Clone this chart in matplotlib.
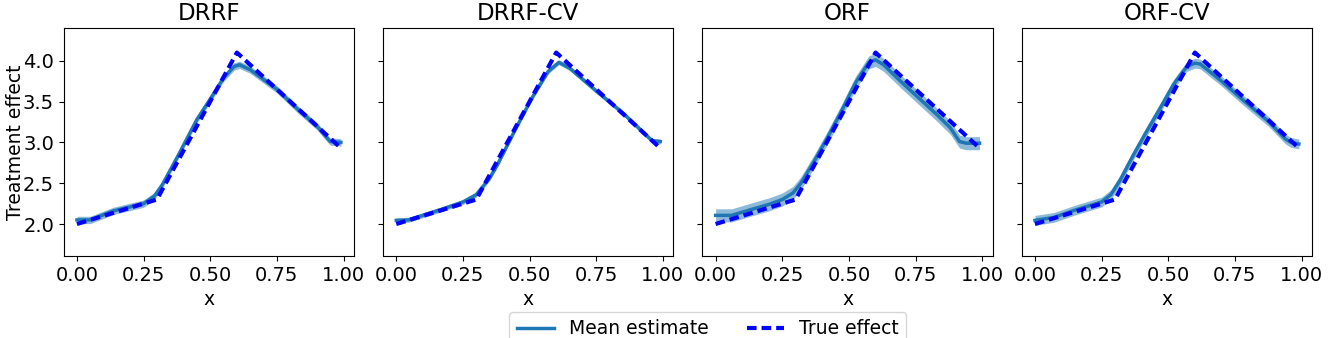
import matplotlib
matplotlib.use('Agg')
import matplotlib.pyplot as plt, numpy as np

titles = ['DRRF', 'DRRF-CV', 'ORF', 'ORF-CV']

x_drrf    = [0.0, 0.05, 0.136, 0.25, 0.29, 0.32, 0.375, 0.45, 0.5, 0.55, 0.59, 0.61, 0.65, 0.75, 0.83, 0.9, 0.95, 0.99]
y_drrf    = [2.05, 2.05, 2.16, 2.25, 2.34, 2.48, 2.81, 3.28, 3.53, 3.79, 3.93, 3.95, 3.89, 3.65, 3.40, 3.20, 3.01, 3.00]
x_drrf_cv = [0.0, 0.045, 0.17, 0.25, 0.3, 0.35, 0.38, 0.45, 0.51, 0.57, 0.61, 0.65, 0.75, 0.85, 0.94, 0.96, 0.99]
y_drrf_cv = [2.045, 2.05, 2.18, 2.27, 2.36, 2.56, 2.73, 3.18, 3.55, 3.87, 3.98, 3.91, 3.63, 3.36, 3.08, 3.02, 3.01]
x_orf     = [0.0, 0.06, 0.136, 0.2, 0.25, 0.29, 0.32, 0.37, 0.42, 0.475, 0.525, 0.575, 0.6, 0.63, 0.7, 0.76, 0.83, 0.88, 0.915, 0.94, 0.99]
y_orf     = [2.106, 2.106, 2.18, 2.24, 2.30, 2.38, 2.50, 2.77, 3.06, 3.40, 3.73, 3.98, 4.01, 3.95, 3.73, 3.55, 3.34, 3.18, 3.01, 2.99, 2.99]
x_orf_cv  = [0.0, 0.07, 0.15, 0.25, 0.285, 0.32, 0.37, 0.42, 0.47, 0.52, 0.57, 0.6, 0.62, 0.7, 0.78, 0.875, 0.94, 0.96, 0.99]
y_orf_cv  = [2.045, 2.08, 2.17, 2.27, 2.36, 2.54, 2.85, 3.14, 3.42, 3.71, 3.93, 3.97, 3.96, 3.75, 3.52, 3.26, 3.04, 3.00, 2.98]
band      = [0.045, 0.03, 0.08, 0.06]   # half width of the shaded band

x_true = [0.0, 0.3, 0.6, 0.99]
y_true = [2.0, 2.3, 4.1, 2.93]

xs = [x_drrf, x_drrf_cv, x_orf, x_orf_cv]
ys = [y_drrf, y_drrf_cv, y_orf, y_orf_cv]

plt.rcParams['font.size'] = 13.5
plt.rcParams['xtick.labelsize'] = 14
plt.rcParams['ytick.labelsize'] = 14
fig, axes = plt.subplots(1, 4, figsize=(13.28, 3.38), dpi=100, sharey=True)
fig.subplots_adjust(left=0.048, right=0.988, bottom=0.243, top=0.917, wspace=0.1)

for ax, t, x, y, b in zip(axes, titles, xs, ys, band):
    x = np.array(x); y = np.array(y)
    ax.fill_between(x, y - b, y + b, color='C0', alpha=0.5, lw=0)
    l1, = ax.plot(x, y, color='C0', lw=2.5, label='Mean estimate')
    l2, = ax.plot(x_true, y_true, 'b--', lw=3, dashes=(2.3, 1.2), label='True effect')
    ax.set_title(t, fontsize=16.5)
    ax.set_xlabel('x')
    ax.set_xticks([0, 0.25, 0.5, 0.75, 1.0])
    ax.set_xticklabels(['0.00', '0.25', '0.50', '0.75', '1.00'])

axes[0].set_ylim(1.61, 4.4)
axes[0].set_yticks([2.0, 2.5, 3.0, 3.5, 4.0])
axes[0].set_ylabel('Treatment effect')
axes[0].yaxis.set_label_coords(-0.135, 0.5)

fig.legend([l1, l2], ['Mean estimate', 'True effect'], loc='upper center',
           bbox_to_anchor=(0.533, 0.077), ncol=2, borderaxespad=0, fontsize=13.5)
plt.savefig('out.png')
